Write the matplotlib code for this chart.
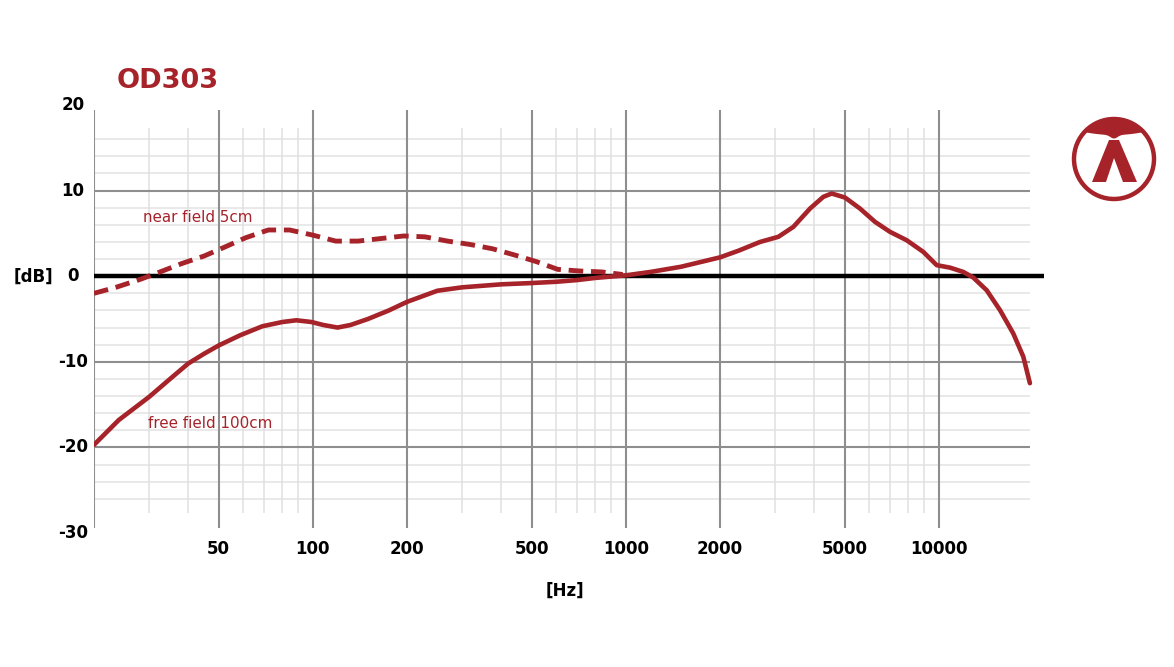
import matplotlib
matplotlib.use("Agg")
import matplotlib.pyplot as plt
import numpy as np
from matplotlib.patches import Circle, Polygon

# ---- data ----
title = "OD303"
free_freq = [20, 24, 30, 35, 40, 45, 50, 58.6, 69, 80, 88.6, 99, 108, 120, 132, 150, 175, 200,
             250, 300, 400, 500, 600, 700, 800, 1000, 1200, 1500, 2000, 2300, 2684, 3072,
             3430, 3878, 4276, 4548, 5016, 5602, 6256, 6986, 7898, 8924, 9848, 10860,
             11976, 12892, 14224, 15692, 17304, 18622, 19550]
free_db = [-19.7, -16.8, -14.1, -12.0, -10.2, -9.05, -8.1, -6.9, -5.85, -5.35, -5.15, -5.35,
           -5.7, -6.0, -5.7, -5.0, -4.0, -3.0, -1.7, -1.3, -0.95, -0.8, -0.65, -0.45, -0.2,
           0.1, 0.5, 1.1, 2.2, 3.0, 4.0, 4.6, 5.76, 7.9, 9.27, 9.66, 9.19, 7.9, 6.35, 5.18,
           4.2, 2.84, 1.29, 1.0, 0.5, -0.16, -1.64, -3.97, -6.7, -9.4, -12.5]
near_freq = [20, 23.5, 28.2, 32.5, 38.3, 44.9, 52.3, 61.1, 72.1, 84.3, 100, 118.4, 139.6,
             165.1, 195.2, 228, 269.7, 319, 375.5, 444, 518.4, 606, 716.5, 836.6, 977]
near_db = [-2.0, -1.3, -0.35, 0.5, 1.5, 2.35, 3.4, 4.5, 5.4, 5.4, 4.8, 4.1, 4.1, 4.4, 4.7,
           4.6, 4.1, 3.7, 3.2, 2.45, 1.7, 0.8, 0.6, 0.5, 0.2]
x_ticks = [50, 100, 200, 500, 1000, 2000, 5000, 10000]
x_tick_labels = ["50", "100", "200", "500", "1000", "2000", "5000", "10000"]
y_ticks = [20, 10, 0, -10, -20, -30]
y_tick_labels = ["20", "10", "0", "-10", "-20", "-30"]
major_v = [20, 50, 100, 200, 500, 1000, 2000, 5000, 10000]
minor_v = [30, 40, 60, 70, 80, 90, 300, 400, 600, 700, 800, 900,
           3000, 4000, 6000, 7000, 8000, 9000]
major_h = [10, -10, -20]
minor_h = [16, 14, 12, 8, 6, 4, 2, -2, -4, -6, -8, -12, -14, -16, -18, -22, -24, -26]
label_near = "near field 5cm"
label_free = "free field 100cm"

RED = "#a6232a"
W, H = 1174, 667
fig = plt.figure(figsize=(W / 100, H / 100), dpi=100)
ax = fig.add_axes([94 / W, (H - 533) / H, 950 / W, 428 / H])
ax.set_xscale("log")
x_right = 20 * 10 ** (950 / 313)
ax.set_xlim(20, x_right)
ax.set_ylim(-30, 20)
for s in ax.spines.values():
    s.set_visible(False)
ax.set_xticks([])
ax.set_yticks([])
ax.minorticks_off()

x_end = 19500
ax.hlines(minor_h, 20, x_end, colors="#e3e3e3", linewidth=1.1, zorder=1)
ax.vlines(minor_v, -27.7, 17.3, colors="#e0e0e0", linewidth=1.1, zorder=1)
ax.hlines(major_h, 20, x_end, colors="#8e8e8e", linewidth=1.5, zorder=2)
ax.vlines(major_v, -29.4, 19.4, colors="#8e8e8e", linewidth=1.5, zorder=2)
ax.hlines([0], 20, x_right, colors="black", linewidth=3.2, zorder=3)

ax.plot(free_freq, free_db, color=RED, linewidth=3.3, solid_capstyle="round",
        solid_joinstyle="round", zorder=5)
ln, = ax.plot(near_freq, near_db, color=RED, linewidth=3.5, zorder=5,
              dash_capstyle="butt")
ln.set_dashes((3.0, 1.6))

fb = dict(family=["DejaVu Sans"], fontweight="bold", color="black", fontsize=12)
for v, lab in zip(x_ticks, x_tick_labels):
    ax.annotate(lab, (v, -30), xytext=(0, -16), textcoords="offset pixels",
                ha="center", va="center", **fb)
for v, lab in zip(y_ticks, y_tick_labels):
    ax.annotate(lab, (0, v), xycoords=("axes fraction", "data"), xytext=(-21, 0),
                textcoords="offset pixels", ha="center", va="center", **fb)

fig.text(33 / W, 1 - 277 / H, "[dB]", ha="center", va="center", **fb)
fig.text(565 / W, 1 - 591 / H, "[Hz]", ha="center", va="center", **fb)
fig.text(117 / W, 1 - 81 / H, title, ha="left", va="center", color=RED,
         family=["DejaVu Sans"], fontweight="bold", fontsize=19.5)
ax.annotate(label_near, (0, 0), xycoords="figure pixels", xytext=(143, H - 217),
            textcoords="figure pixels", ha="left", va="center", color=RED,
            family=["DejaVu Sans"], fontsize=10.9)
ax.annotate(label_free, (0, 0), xycoords="figure pixels", xytext=(148, H - 423),
            textcoords="figure pixels", ha="left", va="center", color=RED,
            family=["DejaVu Sans"], fontsize=10.9)

# ---- logo ----
lax = fig.add_axes([0, 0, 1, 1], zorder=10)
lax.set_xlim(0, W)
lax.set_ylim(H, 0)
lax.axis("off")
cx, cy, r = 1114, 159, 40
lax.add_patch(Circle((cx, cy), r, fill=False, edgecolor=RED, linewidth=3.2))
R = 40.5
def lower(x):
    dx = x - cx
    return 132.0 + 3.0 * (1 - (dx / 30.0) ** 2) + 3.5 * np.exp(-(dx / 5.0) ** 2)
xs = np.linspace(cx - R, cx + R, 400)
top = cy - np.sqrt(np.maximum(R ** 2 - (xs - cx) ** 2, 0))
low = lower(xs)
keep = low > top
xk, tk, lk = xs[keep], top[keep], low[keep]
pts = list(zip(xk, tk)) + list(zip(xk[::-1], lk[::-1]))
lax.add_patch(Polygon(pts, closed=True, facecolor=RED, edgecolor="none"))
lax.add_patch(Polygon([(1092, 182), (1109, 140), (1119, 140), (1137, 182),
                       (1123, 182), (1114, 158), (1106, 182)],
                      closed=True, facecolor=RED, edgecolor="none"))

fig.savefig("out.png", dpi=100, facecolor="white")
